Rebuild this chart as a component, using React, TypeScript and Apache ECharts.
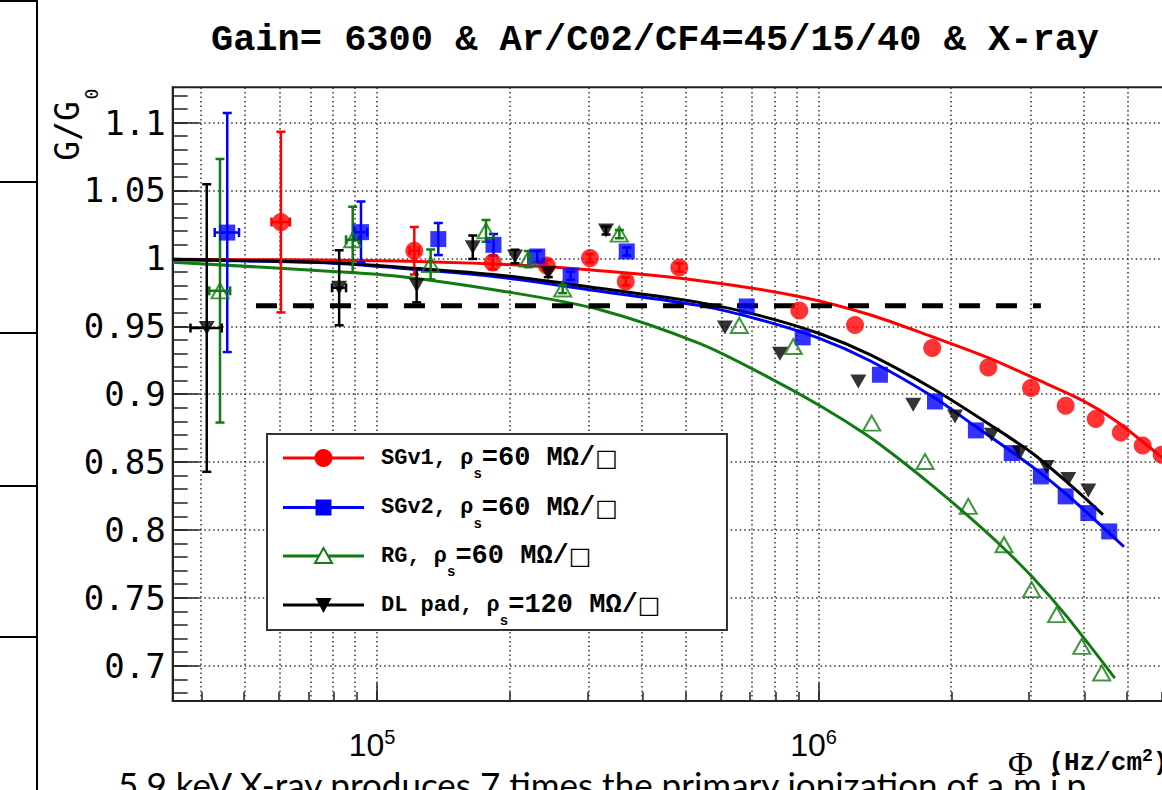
import React, { useEffect, useRef } from 'react';
import * as echarts from 'echarts';

const TITLE = 'Gain= 6300 & Ar/C02/CF4=45/15/40 & X-ray';
const CAPTION = '5.9 keV X-ray produces 7 times the primary ionization of a m.i.p.';

// axis ranges (Hz/cm^2 and G/G0)
const X_MIN = 3.446e4;
const X_MAX = 6.607e6;
const Y_MIN = 0.674;
const Y_MAX = 1.126;

const Y_MAJOR = [0.7, 0.75, 0.8, 0.85, 0.9, 0.95, 1, 1.05, 1.1];
const Y_MINOR = Array.from({ length: 45 }, (_, i) => Math.round((0.68 + i * 0.01) * 100) / 100);
const X_MAJOR = [1e5, 1e6];
const X_MINOR = [4e4, 5e4, 6e4, 7e4, 8e4, 9e4, 1e5, 2e5, 3e5, 4e5, 5e5, 6e5, 7e5, 8e5, 9e5, 1e6, 2e6, 3e6, 4e6, 5e6, 6e6];

// SGv1 (red circles)
const SGV1_X = [6.06e4, 1.215e5, 1.829e5, 2.424e5, 3.037e5, 3.66e5, 4.84e5, 9.05e5, 1.21e6, 1.81e6, 2.425e6, 3.03e6, 3.63e6, 4.245e6, 4.84e6, 5.425e6, 5.99e6];
const SGV1_Y = [1.0267, 1.0056, 0.997, 0.9948, 1.0002, 0.983, 0.9933, 0.9616, 0.9509, 0.934, 0.9197, 0.9045, 0.8915, 0.8817, 0.8718, 0.8622, 0.8554];
const SGV1_ERR = [0.0665, 0.0175, 0.005, 0.004, 0.003, 0.003, 0.003, 0, 0, 0, 0, 0, 0, 0, 0, 0, 0];
const SGV1_XERR = [2900, 3000, 0, 0, 0, 0, 0, 0, 0, 0, 0, 0, 0, 0, 0, 0, 0];
const SGV1_FIT_X = [3.446e4, 1e5, 1.9e5, 3.2e5, 5.39e5, 9.08e5, 1.308e6, 1.808e6, 2.421e6, 3.062e6, 3.973e6, 4.745e6, 5.935e6, 6.59e6];
const SGV1_FIT_Y = [0.9994, 0.9983, 0.9957, 0.9909, 0.9836, 0.9718, 0.9585, 0.9423, 0.9269, 0.9121, 0.8952, 0.8797, 0.8547, 0.8429];

// SGv2 (blue squares)
const SGV2_X = [4.58e4, 9.2e4, 1.377e5, 1.836e5, 2.307e5, 2.746e5, 3.679e5, 6.878e5, 9.21e5, 1.378e6, 1.836e6, 2.273e6, 2.74e6, 3.19e6, 3.63e6, 4.085e6, 4.556e6];
const SGV2_Y = [1.019, 1.0193, 1.0142, 1.01, 1.0014, 0.9872, 1.0051, 0.9646, 0.9418, 0.9143, 0.8946, 0.8733, 0.8566, 0.8394, 0.8247, 0.8124, 0.7989];
const SGV2_ERR = [0.088, 0.0225, 0.0118, 0.008, 0.004, 0.003, 0.003, 0, 0, 0, 0, 0, 0, 0, 0, 0, 0];
const SGV2_XERR = [2900, 3000, 0, 0, 0, 0, 0, 0, 0, 0, 0, 0, 0, 0, 0, 0, 0];
const SGV2_FIT_X = [3.446e4, 7.95e4, 1.127e5, 1.9e5, 3.2e5, 5.39e5, 7.37e5, 1.008e6, 1.308e6, 1.817e6, 2.239e6, 2.758e6, 3.176e6, 3.655e6, 4.057e6, 4.92e6];
const SGV2_FIT_Y = [0.999, 0.9965, 0.9928, 0.9861, 0.9758, 0.9652, 0.9548, 0.9409, 0.9246, 0.8981, 0.8775, 0.8569, 0.8422, 0.8259, 0.8127, 0.7876];

// RG (green open triangles)
const RG_X = [4.41e4, 8.81e4, 1.323e5, 1.766e5, 2.201e5, 2.634e5, 3.54e5, 6.617e5, 8.77e5, 1.32e6, 1.743e6, 2.184e6, 2.632e6, 3.04e6, 3.463e6, 3.947e6, 4.38e6];
const RG_Y = [0.9761, 1.0137, 0.9955, 1.0203, 0.9995, 0.9774, 1.0179, 0.9506, 0.9351, 0.8787, 0.8504, 0.8173, 0.7891, 0.756, 0.7376, 0.7142, 0.6946];
const RG_ERR = [0.097, 0.0243, 0.011, 0.008, 0.006, 0.003, 0.003, 0, 0, 0, 0, 0, 0, 0, 0, 0, 0];
const RG_XERR = [2400, 3000, 0, 0, 0, 0, 0, 0, 0, 0, 0, 0, 0, 0, 0, 0, 0];
const RG_FIT_X = [3.446e4, 7.95e4, 1.127e5, 1.9e5, 3.2e5, 5.39e5, 7.63e5, 1.008e6, 1.286e6, 1.53e6, 1.82e6, 2.166e6, 2.577e6, 3.066e6, 3.65e6, 4.69e6];
const RG_FIT_Y = [0.9972, 0.9904, 0.9867, 0.9762, 0.9622, 0.9372, 0.9131, 0.8915, 0.8699, 0.8517, 0.8321, 0.8112, 0.7891, 0.7646, 0.7363, 0.6909];

// DL pad (black down triangles)
const DL_X = [4.116e4, 8.21e4, 1.23e5, 1.648e5, 2.054e5, 2.443e5, 3.302e5, 6.14e5, 8.18e5, 1.231e6, 1.639e6, 2.038e6, 2.468e6, 2.86e6, 3.288e6, 3.68e6, 4.085e6];
const DL_Y = [0.9487, 0.9783, 0.9802, 1.0082, 1.0014, 0.9892, 1.0205, 0.9491, 0.9297, 0.9094, 0.8922, 0.8836, 0.8701, 0.8571, 0.8463, 0.8375, 0.8291];
const DL_ERR = [0.1059, 0.0276, 0.0126, 0.0086, 0.005, 0.003, 0.003, 0, 0, 0, 0, 0, 0, 0, 0, 0, 0];
const DL_XERR = [3350, 3000, 0, 0, 0, 0, 0, 0, 0, 0, 0, 0, 0, 0, 0, 0, 0];
const DL_FIT_X = [3.446e4, 7.95e4, 1.127e5, 1.9e5, 3.2e5, 5.39e5, 7.37e5, 1.008e6, 1.308e6, 1.817e6, 2.446e6, 3.062e6, 3.712e6, 4.41e6];
const DL_FIT_Y = [0.9994, 0.9968, 0.9935, 0.9876, 0.978, 0.9674, 0.9578, 0.9445, 0.9291, 0.904, 0.8775, 0.8561, 0.8333, 0.8112];

// reference dashed line
const REF_X = [5.32e4, 3.19e6];
const REF_Y = [0.9652, 0.9652];

const LEGEND_NAMES = ['SGv1', 'SGv2', 'RG', 'DL pad'];
const LEGEND_RHO = ['60', '60', '60', '120'];

const RED = '#ff0000';
const BLUE = '#0000ff';
const GREEN = '#127a12';
const BLACK = '#000000';

const lg = (v: number) => Math.log10(v);

function errSeries(xs: number[], ys: number[], errs: number[], xerrs: number[], color: string) {
  return {
    type: 'custom',
    xAxisIndex: 0,
    yAxisIndex: 0,
    z: 3,
    silent: true,
    clip: true,
    encode: { x: 0, y: 1 },
    data: xs.map((x, i) => [lg(x), ys[i], errs[i], xerrs[i] > 0 ? lg(x - xerrs[i]) : lg(x), xerrs[i] > 0 ? lg(x + xerrs[i]) : lg(x)]),
    renderItem: (params: any, api: any) => {
      const lx = api.value(0);
      const y = api.value(1);
      const e = api.value(2);
      const xl = api.value(3);
      const xh = api.value(4);
      const c = api.coord([lx, y]);
      const st = { stroke: color, lineWidth: 2.5 };
      const cap = 4.5;
      const children: any[] = [];
      if (e > 0) {
        const t = api.coord([lx, y + e]);
        const b = api.coord([lx, y - e]);
        children.push({ type: 'line', shape: { x1: c[0], y1: t[1], x2: c[0], y2: b[1] }, style: st });
        children.push({ type: 'line', shape: { x1: c[0] - cap, y1: t[1], x2: c[0] + cap, y2: t[1] }, style: st });
        children.push({ type: 'line', shape: { x1: c[0] - cap, y1: b[1], x2: c[0] + cap, y2: b[1] }, style: st });
      }
      if (xh > xl) {
        const l = api.coord([xl, y]);
        const r = api.coord([xh, y]);
        children.push({ type: 'line', shape: { x1: l[0], y1: c[1], x2: r[0], y2: c[1] }, style: st });
        children.push({ type: 'line', shape: { x1: l[0], y1: c[1] - cap, x2: l[0], y2: c[1] + cap }, style: st });
        children.push({ type: 'line', shape: { x1: r[0], y1: c[1] - cap, x2: r[0], y2: c[1] + cap }, style: st });
      }
      return { type: 'group', children };
    },
  };
}

function fitSeries(xs: number[], ys: number[], color: string) {
  return {
    type: 'line',
    xAxisIndex: 0,
    yAxisIndex: 0,
    z: 2,
    silent: true,
    smooth: 0.3,
    showSymbol: false,
    symbol: 'none',
    lineStyle: { color, width: 3 },
    data: xs.map((x, i) => [lg(x), ys[i]]),
  };
}

function markerSeries(xs: number[], ys: number[], symbol: string, size: any, itemStyle: any, rotate = 0) {
  return {
    type: 'scatter',
    xAxisIndex: 0,
    yAxisIndex: 0,
    z: 5,
    silent: true,
    symbol,
    symbolSize: size,
    symbolRotate: rotate,
    itemStyle,
    data: xs.map((x, i) => [lg(x), ys[i]]),
  };
}

function legendItems() {
  const rowsY = [458, 507.5, 556, 605];
  const colors = [RED, BLUE, GREEN, BLACK];
  const items: any[] = [
    {
      type: 'rect',
      shape: { x: 267, y: 434, width: 460, height: 196 },
      style: { fill: '#fff', stroke: '#333', lineWidth: 2 },
      z: 100,
    },
  ];
  rowsY.forEach((y, i) => {
    items.push({
      type: 'line',
      shape: { x1: 283, y1: y, x2: 364, y2: y },
      style: { stroke: colors[i], lineWidth: 3 },
      z: 101,
    });
    const mx = 323.5;
    if (i === 0) items.push({ type: 'circle', shape: { cx: mx, cy: y, r: 9 }, style: { fill: RED }, z: 102 });
    if (i === 1) items.push({ type: 'rect', shape: { x: mx - 8, y: y - 8, width: 16, height: 16 }, style: { fill: BLUE }, z: 102 });
    if (i === 2)
      items.push({
        type: 'polygon',
        shape: { points: [[mx, y - 8], [mx + 8.5, y + 7], [mx - 8.5, y + 7]] },
        style: { fill: '#fff', stroke: GREEN, lineWidth: 2 },
        z: 102,
      });
    if (i === 3)
      items.push({
        type: 'polygon',
        shape: { points: [[mx - 8, y - 7], [mx + 8, y - 7], [mx, y + 8]] },
        style: { fill: BLACK },
        z: 102,
      });
    items.push({
      type: 'text',
      x: 381,
      y,
      z: 102,
      style: {
        text: `${LEGEND_NAMES[i]}, ρ{s|s}{t|=${LEGEND_RHO[i]} MΩ/}{b|□}`,
        font: 'bold 22px "Liberation Mono"',
        fill: '#000',
        verticalAlign: 'middle',
        lineHeight: 46,
        rich: {
          s: { fontSize: 14, fontWeight: 'bold', fontFamily: 'Liberation Mono', lineHeight: 14, verticalAlign: 'bottom' },
          t: { fontSize: 27, fontWeight: 'bold', fontFamily: 'Liberation Mono', lineHeight: 46 },
          b: { fontSize: 24, fontWeight: 'bold', fontFamily: 'DejaVu Sans', lineHeight: 46 },
        },
      },
    });
  });
  return items;
}

function buildOption() {
  const dotted = { color: '#333', width: 1.5, type: [1.5, 3] };
  return {
    animation: false,
    backgroundColor: '#fff',
    grid: {
      left: 172.7,
      top: 87.3,
      right: -18.5,
      bottom: 89,
      show: true,
      borderColor: '#222',
      borderWidth: 2,
      backgroundColor: '#fff',
      containLabel: false,
      outerBoundsMode: 'none',
    },
    xAxis: [
      {
        type: 'value',
        position: 'bottom',
        min: lg(X_MIN),
        max: lg(X_MAX),
        axisLine: { show: true, lineStyle: { color: '#222', width: 2 } },
        axisTick: { show: true, inside: true, length: 9, customValues: X_MINOR.map(lg), lineStyle: { color: '#222', width: 1.5 } },
        axisLabel: { show: false },
        splitLine: { show: false },
      },
      {
        type: 'value',
        position: 'bottom',
        min: lg(X_MIN),
        max: lg(X_MAX),
        axisLine: { show: false },
        axisTick: { show: true, inside: true, length: 18, customValues: X_MAJOR.map(lg), lineStyle: { color: '#222', width: 1.5 } },
        axisLabel: {
          show: true,
          customValues: X_MAJOR.map(lg),
          margin: 26,
          padding: [0, 10, 0, 0],
          formatter: (v: number) => `10{sup|${Math.round(v)}}`,
          color: '#000',
          fontFamily: 'Liberation Sans',
          fontSize: 32,
          lineHeight: 36,
          rich: {
            sup: { fontFamily: 'Liberation Sans', fontSize: 20, lineHeight: 20, verticalAlign: 'top', color: '#000' },
          },
        },
        splitLine: { show: false },
      },
    ],
    yAxis: [
      {
        type: 'value',
        position: 'left',
        min: Y_MIN,
        max: Y_MAX,
        axisLine: { show: true, lineStyle: { color: '#222', width: 2 } },
        axisTick: { show: true, inside: true, length: 15, customValues: Y_MINOR, lineStyle: { color: '#222', width: 1.5 } },
        axisLabel: { show: false },
        splitLine: { show: false },
      },
      {
        type: 'value',
        position: 'left',
        min: Y_MIN,
        max: Y_MAX,
        axisLine: { show: false },
        axisTick: { show: true, inside: true, length: 27, customValues: Y_MAJOR, lineStyle: { color: '#222', width: 1.5 } },
        axisLabel: {
          show: true,
          customValues: Y_MAJOR,
          margin: 7,
          formatter: (v: number) => String(Math.round(v * 100) / 100),
          color: '#000',
          fontFamily: 'DejaVu Sans Mono',
          fontSize: 34,
        },
        splitLine: { show: false },
      },
    ],
    series: [
      {
        type: 'scatter',
        xAxisIndex: 0,
        yAxisIndex: 0,
        silent: true,
        z: 1,
        data: [],
        markLine: {
          silent: true,
          z: 1,
          animation: false,
          symbol: 'none',
          label: { show: false },
          emphasis: { disabled: true },
          lineStyle: dotted,
          data: [...X_MINOR.map((v) => ({ xAxis: lg(v) })), ...Y_MAJOR.map((v) => ({ yAxis: v }))],
        },
      },
      fitSeries(SGV1_FIT_X, SGV1_FIT_Y, RED),
      fitSeries(SGV2_FIT_X, SGV2_FIT_Y, BLUE),
      fitSeries(RG_FIT_X, RG_FIT_Y, GREEN),
      fitSeries(DL_FIT_X, DL_FIT_Y, BLACK),
      {
        type: 'line',
        xAxisIndex: 0,
        yAxisIndex: 0,
        z: 3,
        silent: true,
        showSymbol: false,
        symbol: 'none',
        lineStyle: { color: '#000', width: 5, type: [21, 16] },
        data: REF_X.map((x, i) => [lg(x), REF_Y[i]]),
      },
      errSeries(SGV1_X, SGV1_Y, SGV1_ERR, SGV1_XERR, RED),
      errSeries(SGV2_X, SGV2_Y, SGV2_ERR, SGV2_XERR, BLUE),
      errSeries(RG_X, RG_Y, RG_ERR, RG_XERR, GREEN),
      errSeries(DL_X, DL_Y, DL_ERR, DL_XERR, BLACK),
      markerSeries(SGV1_X, SGV1_Y, 'circle', 18, { color: RED }),
      markerSeries(SGV2_X, SGV2_Y, 'rect', 16, { color: BLUE }),
      markerSeries(RG_X, RG_Y, 'triangle', [17, 15], { color: 'rgba(255,255,255,0)', borderColor: GREEN, borderWidth: 2 }),
      markerSeries(DL_X, DL_Y, 'triangle', [16, 14], { color: BLACK }, 180),
    ],
    graphic: [
      // slide table lines on the left
      { type: 'line', shape: { x1: 37, y1: 0, x2: 37, y2: 790 }, style: { stroke: '#000', lineWidth: 2 }, z: 50 },
      ...[1, 182, 333, 486, 637].map((y) => ({
        type: 'line',
        shape: { x1: 0, y1: y, x2: 37, y2: y },
        style: { stroke: '#000', lineWidth: 2 },
        z: 50,
      })),
      {
        type: 'text',
        x: 655,
        y: 40,
        z: 50,
        style: {
          text: TITLE,
          font: 'bold 37px "Liberation Mono"',
          fill: '#000',
          align: 'center',
          verticalAlign: 'middle',
        },
      },
      {
        type: 'text',
        x: 67.5,
        y: 131,
        rotation: Math.PI / 2,
        z: 50,
        style: { text: 'G/G', font: '33px "DejaVu Sans Mono"', fill: '#000', align: 'center', verticalAlign: 'middle' },
      },
      {
        type: 'text',
        x: 91,
        y: 94,
        rotation: Math.PI / 2,
        z: 50,
        style: { text: '0', font: '18px "DejaVu Sans Mono"', fill: '#000', align: 'center', verticalAlign: 'middle' },
      },
      {
        type: 'text',
        x: 118,
        y: 784,
        z: 40,
        style: { text: CAPTION, font: '35px Lato', fill: '#000', align: 'left', verticalAlign: 'middle' },
      },
      {
        type: 'text',
        x: 1008,
        y: 763,
        z: 60,
        style: {
          text: '{phi|Φ} (Hz/cm{sup|2})',
          font: 'bold 26px "Liberation Mono"',
          fill: '#000',
          align: 'left',
          verticalAlign: 'middle',
          lineHeight: 32,
          rich: {
            phi: { fontFamily: 'Liberation Serif', fontSize: 34, fontWeight: 'normal', lineHeight: 32 },
            sup: { fontFamily: 'Liberation Mono', fontWeight: 'bold', fontSize: 18, lineHeight: 18, verticalAlign: 'top' },
          },
        },
      },
      ...legendItems(),
    ],
  };
}

export default function App() {
  const ref = useRef<HTMLDivElement>(null);
  useEffect(() => {
    if (!ref.current) return;
    const chart = echarts.init(ref.current, null, { renderer: 'svg' });
    chart.setOption(buildOption() as any);
    return () => chart.dispose();
  }, []);
  return (
    <div
      ref={ref}
      style={{ position: 'absolute', left: 0, top: 0, width: 1162, height: 790, background: '#fff' }}
    />
  );
}
